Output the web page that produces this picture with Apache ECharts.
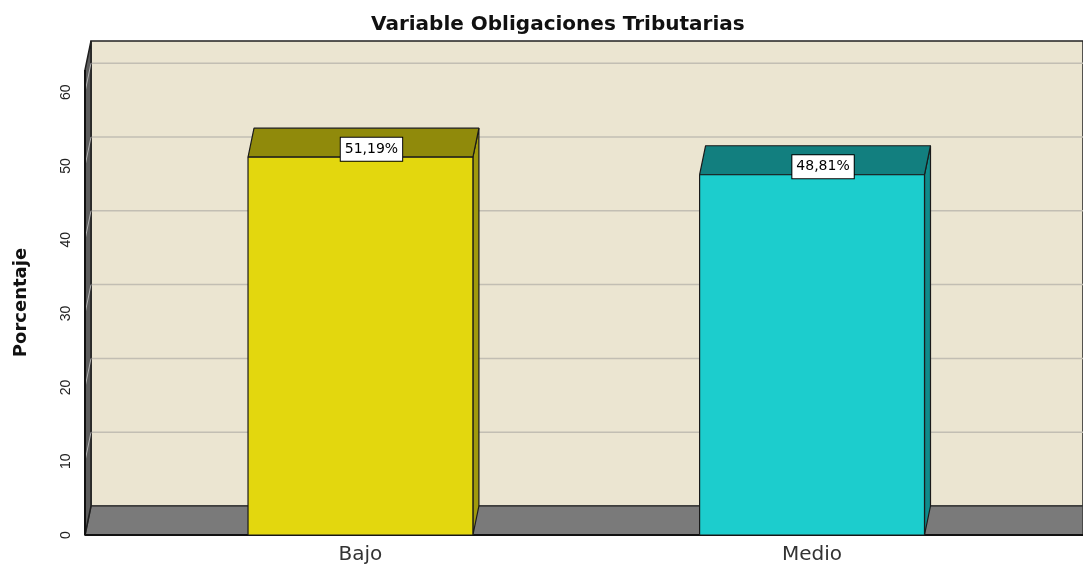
<!DOCTYPE html>
<html>
<head>
<meta charset="utf-8">
<script src="https://cdn.jsdelivr.net/npm/echarts@6/dist/echarts.min.js"></script>
<style>
  html, body { margin: 0; padding: 0; background: #fff; }
  #chart { width: 1083px; height: 565px; }
</style>
</head>
<body>
<div id="chart"></div>
<script>
// Chart data
var categories = ['Bajo', 'Medio'];
var percentages = [51.19, 48.81];
var yTicks = [0, 10, 20, 30, 40, 50, 60];

// Style
var frontColors = ['#e3d70e', '#1ccdcd'];
var topColors = ['#908a0b', '#127f7f'];
var sideColors = ['#a09a0c', '#0f8b8b'];
var DX = 6, DY = -29;       // depth offset of the 3D box
var HALF = 0.249;           // half bar width in axis units

function fmtPct(v) {
  return v.toFixed(2).replace('.', ',') + '%';
}

var chart = echarts.init(document.getElementById('chart'));

function renderBox(params, api) {
  var cs = params.coordSys;
  var x0 = cs.x, x1 = cs.x + cs.width;
  var yb = api.coord([0, 0])[1];
  var yt = api.coord([0, 63])[1];
  var children = [];

  // back wall
  children.push({
    type: 'rect',
    shape: { x: x0 + DX, y: yt + DY, width: x1 - x0 - DX, height: yb - yt },
    style: { fill: '#ebe5d1', stroke: '#222', lineWidth: 1.5 }
  });
  // grid lines on back wall
  yTicks.forEach(function (v) {
    if (v === 0) return;
    var y = api.coord([0, v])[1];
    children.push({
      type: 'line',
      shape: { x1: x0 + DX, y1: y + DY, x2: x1, y2: y + DY },
      style: { stroke: '#c2beb3', lineWidth: 1.5 }
    });
  });
  // floor
  children.push({
    type: 'polygon',
    shape: { points: [[x0, yb], [x0 + DX, yb + DY], [x1, yb + DY], [x1, yb]] },
    style: { fill: '#7a7a7a', stroke: '#3a3a3a', lineWidth: 1.5, lineJoin: 'bevel' }
  });
  // left wall
  children.push({
    type: 'polygon',
    shape: { points: [[x0, yb], [x0, yt], [x0 + DX, yt + DY], [x0 + DX, yb + DY]] },
    style: { fill: '#5c5c5c', stroke: '#1e1e1e', lineWidth: 1.5, lineJoin: 'bevel' }
  });
  yTicks.forEach(function (v) {
    if (v === 0) return;
    var y = api.coord([0, v])[1];
    children.push({
      type: 'line',
      shape: { x1: x0, y1: y, x2: x0 + DX, y2: y + DY },
      style: { stroke: '#b0b0b0', lineWidth: 1 }
    });
  });
  // front axis lines
  children.push({
    type: 'polyline',
    shape: { points: [[x0, yt], [x0, yb], [x1, yb]] },
    style: { fill: null, stroke: '#111', lineWidth: 2, lineJoin: 'bevel' }
  });
  return { type: 'group', children: children };
}

function renderBar(params, api) {
  var i = params.dataIndex;
  var c = api.value(0), v = api.value(1);
  var pl = api.coord([c - HALF, v]);
  var pr = api.coord([c + HALF, 0]);
  var xl = pl[0], yt = pl[1], xr = pr[0], yb = pr[1];
  var border = { stroke: '#1a1a1a', lineWidth: 1.2, lineJoin: 'bevel' };
  return {
    type: 'group',
    children: [
      {
        type: 'polygon',
        shape: { points: [[xr, yt], [xr + DX, yt + DY], [xr + DX, yb + DY], [xr, yb]] },
        style: Object.assign({ fill: sideColors[i] }, border)
      },
      {
        type: 'polygon',
        shape: { points: [[xl, yt], [xl + DX, yt + DY], [xr + DX, yt + DY], [xr, yt]] },
        style: Object.assign({ fill: topColors[i] }, border)
      },
      {
        type: 'rect',
        shape: { x: xl, y: yt, width: xr - xl, height: yb - yt },
        style: Object.assign({ fill: frontColors[i] }, border)
      },
      {
        type: 'text',
        style: {
          text: fmtPct(v),
          x: (xl + xr) / 2 + 11,
          y: yt - 8,
          align: 'center',
          verticalAlign: 'middle',
          fill: '#000',
          font: '14px "DejaVu Sans"',
          backgroundColor: '#fff',
          borderColor: '#000',
          borderWidth: 1,
          padding: [5, 4, 4, 4]
        }
      }
    ]
  };
}

var option = {
  animation: false,
  backgroundColor: '#fff',
  title: {
    text: 'Variable Obligaciones Tributarias',
    left: 366,
    top: 10,
    textStyle: { fontFamily: 'DejaVu Sans', fontWeight: 'bold', fontSize: 20, color: '#111' }
  },
  grid: { left: 85, right: 0, top: 70, bottom: 30 },
  xAxis: {
    type: 'value',
    min: -0.61,
    max: 1.6,
    axisLine: { show: false },
    axisTick: { show: false },
    splitLine: { show: false },
    axisLabel: {
      customValues: [0, 1],
      margin: 10,
      formatter: function (v) { return categories[Math.round(v)] || ''; },
      fontFamily: 'DejaVu Sans',
      fontSize: 20,
      color: '#333'
    }
  },
  yAxis: {
    type: 'value',
    min: 0,
    max: 63,
    interval: 10,
    name: 'Porcentaje',
    nameLocation: 'middle',
    nameGap: 55,
    nameRotate: 90,
    nameTextStyle: { fontFamily: 'DejaVu Sans', fontWeight: 'bold', fontSize: 18, color: '#111' },
    axisLine: { show: false },
    axisTick: { show: false },
    splitLine: { show: false },
    axisLabel: {
      rotate: 90,
      margin: 12,
      showMaxLabel: false,
      fontFamily: '"Liberation Sans"',
      fontSize: 14,
      color: '#222'
    }
  },
  series: [
    {
      type: 'custom',
      clip: false,
      silent: true,
      renderItem: renderBox,
      data: [[0, 0]],
      z: 1
    },
    {
      type: 'custom',
      clip: false,
      renderItem: renderBar,
      data: categories.map(function (name, i) { return [i, percentages[i]]; }),
      z: 2
    }
  ]
};

chart.setOption(option);
</script>
</body>
</html>
